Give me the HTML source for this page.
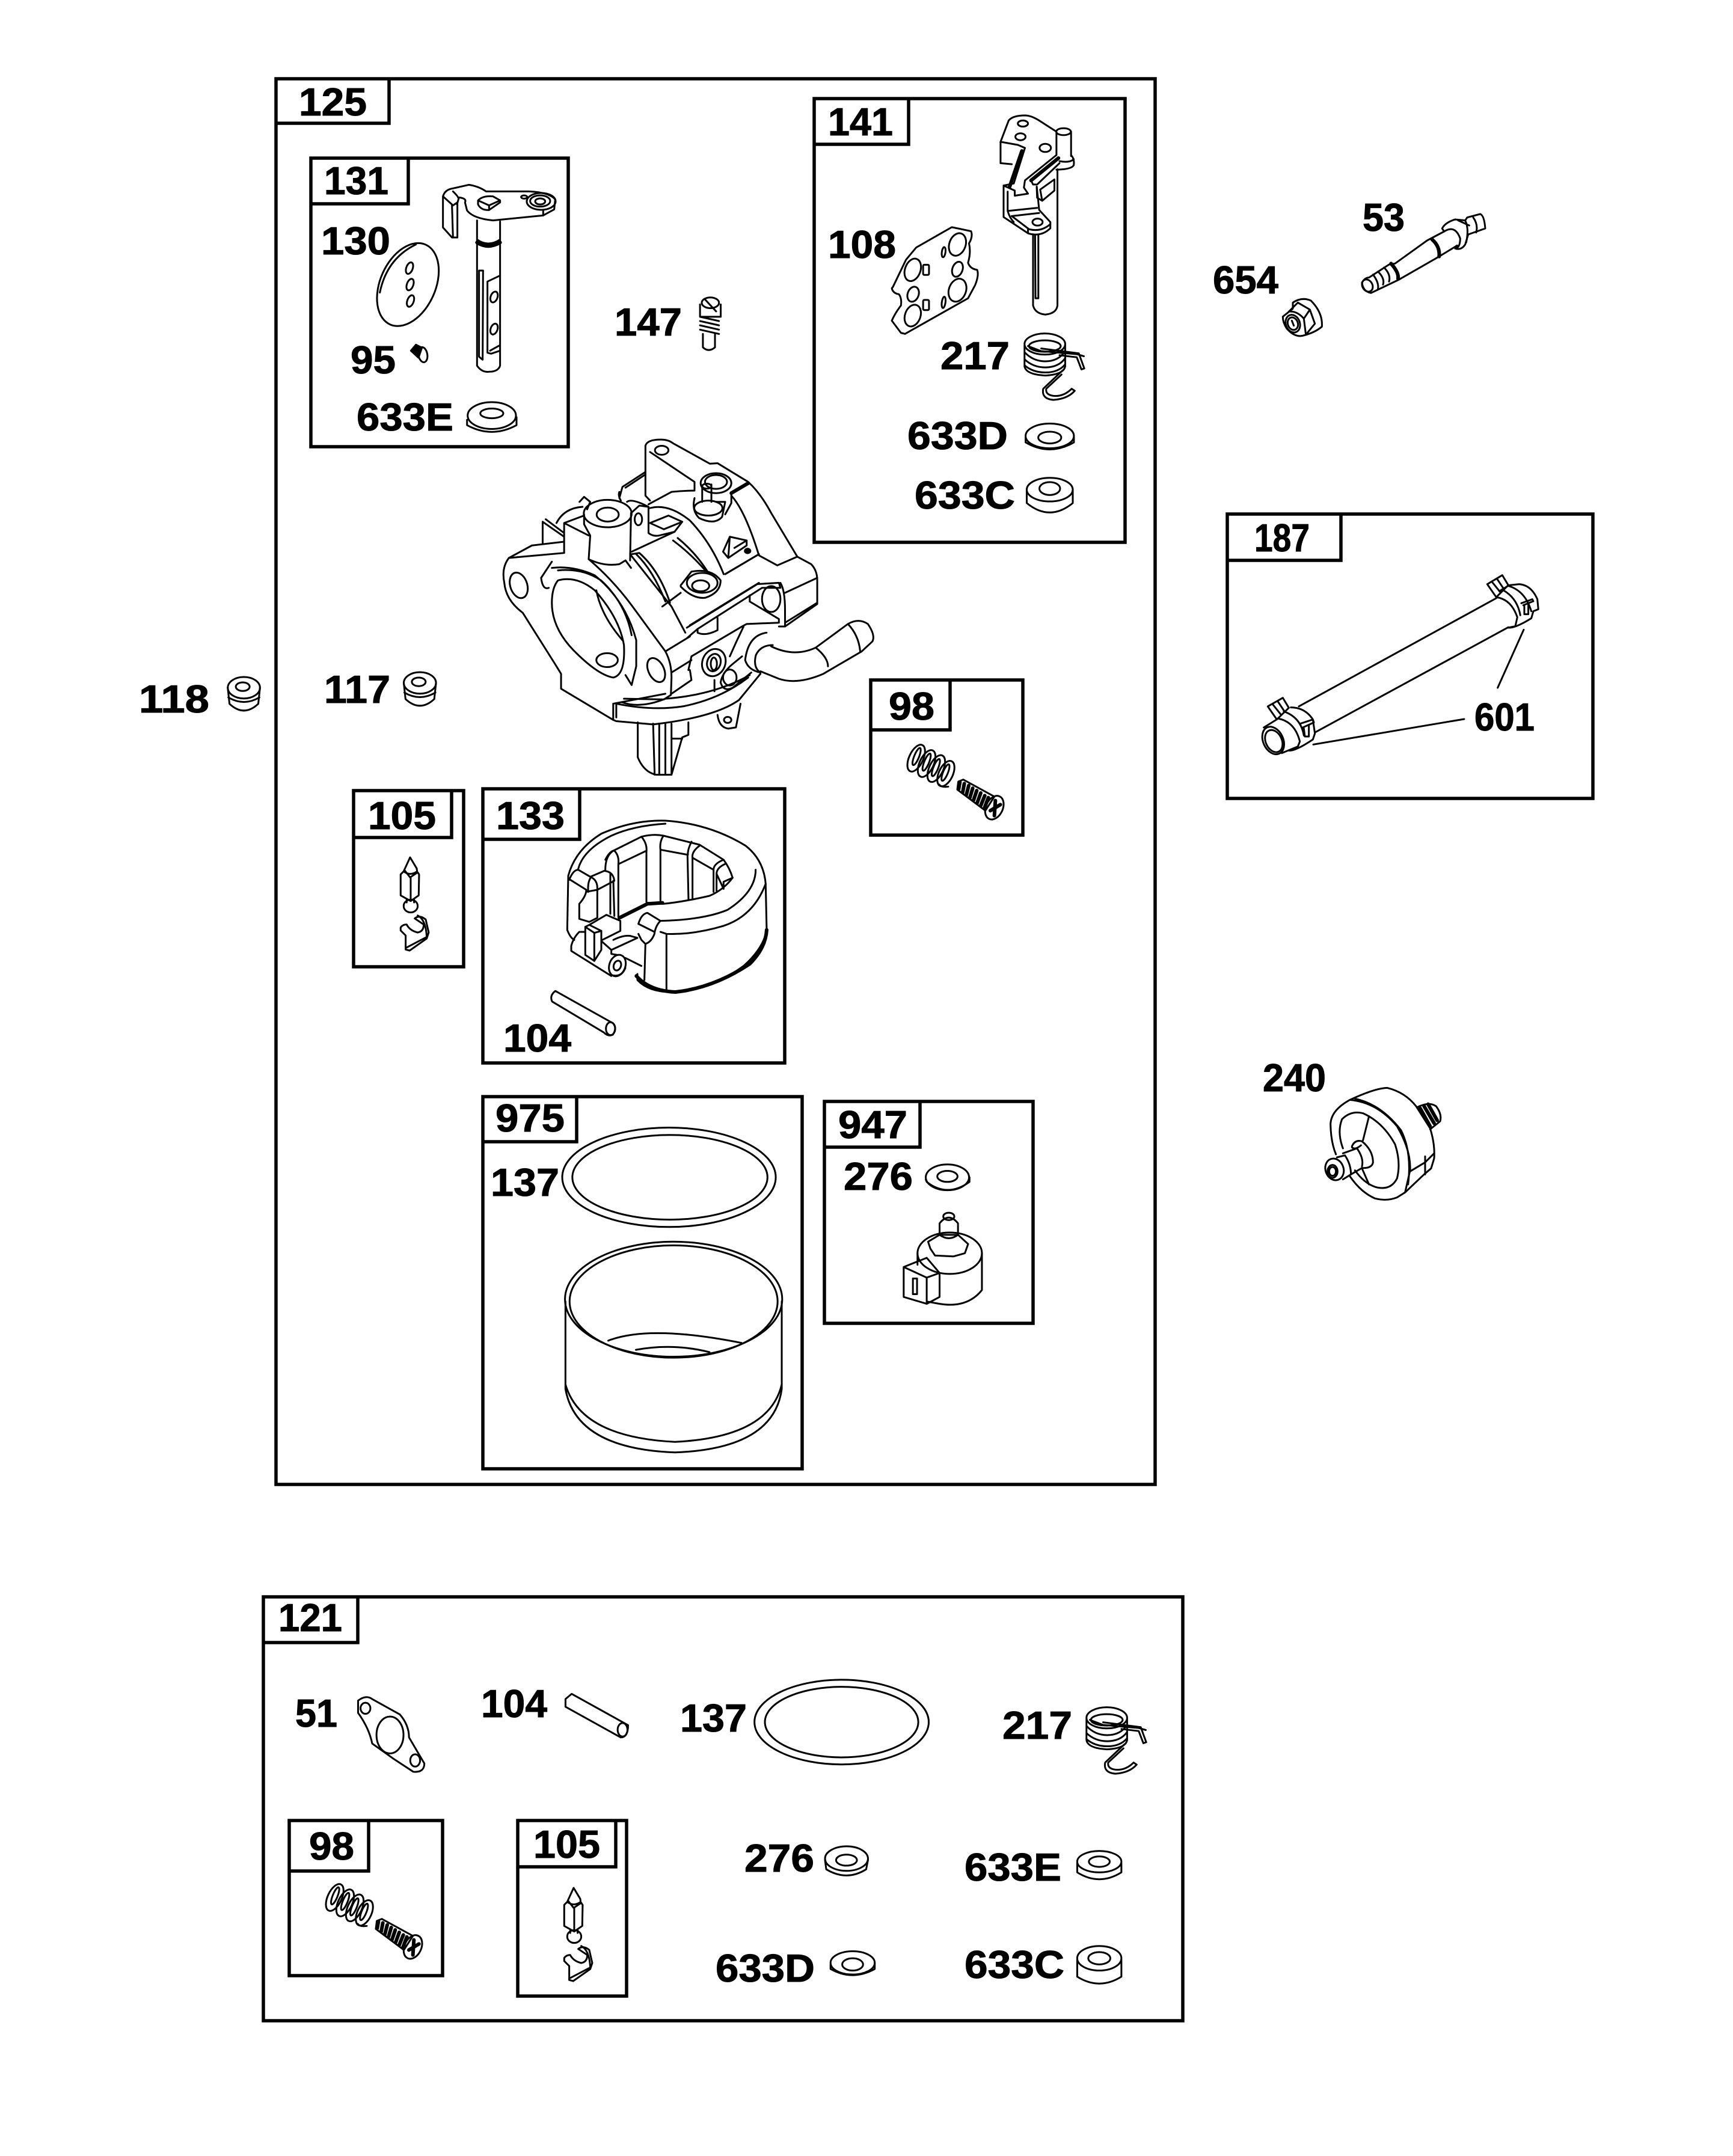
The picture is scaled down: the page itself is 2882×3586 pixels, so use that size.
<!DOCTYPE html>
<html><head><meta charset="utf-8"><style>
html,body{margin:0;padding:0;background:#fff}
svg{display:block}
text{font-family:"Liberation Sans",sans-serif;font-weight:700;font-size:65px;fill:#000;stroke:#000;stroke-width:1}
.f{fill:none;stroke:#000;stroke-width:5.5}
.p *{fill:none;stroke:#000;stroke-width:3;vector-effect:non-scaling-stroke;stroke-linejoin:round;stroke-linecap:round}
.p .k{fill:#000}
.p .t{stroke-width:6}
</style></head><body>
<svg xmlns="http://www.w3.org/2000/svg" width="2882" height="3586" viewBox="0 0 2882 3586">
<rect width="2882" height="3586" fill="#fff"/>
<g class="f">
<rect x="459" y="131" width="1462" height="2338"/><path d="M459 205H647V131"/>
<rect x="517" y="263" width="428" height="480"/><path d="M517 339H679V263"/>
<rect x="1354" y="164" width="517" height="738"/><path d="M1354 240H1511V164"/>
<rect x="1448" y="1131" width="253" height="258"/><path d="M1448 1214H1580V1131"/>
<rect x="588" y="1315" width="183" height="293"/><path d="M588 1393H751V1315"/>
<rect x="803" y="1312" width="502" height="456"/><path d="M803 1396H964V1312"/>
<rect x="803" y="1824" width="531" height="619"/><path d="M803 1899H959V1824"/>
<rect x="1371" y="1832" width="347" height="369"/><path d="M1371 1908H1530V1832"/>
<rect x="438" y="2656" width="1529" height="705"/><path d="M438 2732H595V2656"/>
<rect x="481" y="3028" width="255" height="258"/><path d="M481 3112H613V3028"/>
<rect x="861" y="3028" width="181" height="292"/><path d="M861 3105H1024V3028"/>
<rect x="2041" y="855" width="608" height="473"/><path d="M2041 932H2230V855"/>
</g>
<g>
<text x="497" y="192" textLength="113" lengthAdjust="spacingAndGlyphs">125</text>
<text x="539" y="323" textLength="107" lengthAdjust="spacingAndGlyphs">131</text>
<text x="534" y="423" textLength="115" lengthAdjust="spacingAndGlyphs">130</text>
<text x="583" y="621" textLength="75" lengthAdjust="spacingAndGlyphs">95</text>
<text x="593" y="716" textLength="161" lengthAdjust="spacingAndGlyphs">633E</text>
<text x="1022" y="558" textLength="112" lengthAdjust="spacingAndGlyphs">147</text>
<text x="1377" y="225" textLength="108" lengthAdjust="spacingAndGlyphs">141</text>
<text x="1377" y="429" textLength="113" lengthAdjust="spacingAndGlyphs">108</text>
<text x="1564" y="614" textLength="115" lengthAdjust="spacingAndGlyphs">217</text>
<text x="1509" y="747" textLength="167" lengthAdjust="spacingAndGlyphs">633D</text>
<text x="1521" y="846" textLength="167" lengthAdjust="spacingAndGlyphs">633C</text>
<text x="539" y="1169" textLength="110" lengthAdjust="spacingAndGlyphs">117</text>
<text x="231" y="1185" textLength="117" lengthAdjust="spacingAndGlyphs">118</text>
<text x="1478" y="1197" textLength="76" lengthAdjust="spacingAndGlyphs">98</text>
<text x="612" y="1379" textLength="113" lengthAdjust="spacingAndGlyphs">105</text>
<text x="825" y="1379" textLength="114" lengthAdjust="spacingAndGlyphs">133</text>
<text x="837" y="1749" textLength="113" lengthAdjust="spacingAndGlyphs">104</text>
<text x="824" y="1882" textLength="115" lengthAdjust="spacingAndGlyphs">975</text>
<text x="816" y="1989" textLength="114" lengthAdjust="spacingAndGlyphs">137</text>
<text x="1394" y="1893" textLength="115" lengthAdjust="spacingAndGlyphs">947</text>
<text x="1403" y="1979" textLength="115" lengthAdjust="spacingAndGlyphs">276</text>
<text x="463" y="2713" textLength="106" lengthAdjust="spacingAndGlyphs">121</text>
<text x="491" y="2872" textLength="70" lengthAdjust="spacingAndGlyphs">51</text>
<text x="800" y="2856" textLength="110" lengthAdjust="spacingAndGlyphs">104</text>
<text x="1131" y="2880" textLength="111" lengthAdjust="spacingAndGlyphs">137</text>
<text x="1667" y="2892" textLength="116" lengthAdjust="spacingAndGlyphs">217</text>
<text x="514" y="3093" textLength="75" lengthAdjust="spacingAndGlyphs">98</text>
<text x="887" y="3090" textLength="111" lengthAdjust="spacingAndGlyphs">105</text>
<text x="1238" y="3113" textLength="116" lengthAdjust="spacingAndGlyphs">276</text>
<text x="1604" y="3128" textLength="161" lengthAdjust="spacingAndGlyphs">633E</text>
<text x="1190" y="3296" textLength="165" lengthAdjust="spacingAndGlyphs">633D</text>
<text x="1604" y="3290" textLength="166" lengthAdjust="spacingAndGlyphs">633C</text>
<text x="2266" y="384" textLength="70" lengthAdjust="spacingAndGlyphs">53</text>
<text x="2017" y="488" textLength="109" lengthAdjust="spacingAndGlyphs">654</text>
<text x="2086" y="917" textLength="92" lengthAdjust="spacingAndGlyphs">187</text>
<text x="2452" y="1215" textLength="100" lengthAdjust="spacingAndGlyphs">601</text>
<text x="2100" y="1815" textLength="105" lengthAdjust="spacingAndGlyphs">240</text>
</g>

<defs class="p">
<g id="sp217">
<ellipse cx="1058" cy="1190" rx="100" ry="52"/><ellipse cx="1058" cy="1200" rx="78" ry="28"/>
<path d="M958 1195L958 1300Q965 1340 1060 1345Q1150 1340 1158 1300L1158 1195M958 1230Q1000 1275 1060 1275Q1125 1275 1158 1225M958 1265Q1000 1305 1060 1305Q1125 1305 1158 1260M958 1295Q1000 1330 1060 1330Q1125 1330 1158 1290"/>
<path d="M975 1200L1040 1225L1215 1240L1250 1250M1040 1212L1225 1236L1252 1310L1238 1315L1215 1255L1130 1245"/>
<path d="M1145 1320L1050 1410Q1040 1460 1100 1465Q1170 1460 1205 1420L1190 1410Q1150 1450 1100 1445Q1060 1440 1065 1410L1140 1340"/>
</g>
<g id="sp98">
<ellipse cx="170" cy="108" rx="35" ry="72" transform="rotate(25 170 108)"/><ellipse cx="172" cy="100" rx="12" ry="46" transform="rotate(22 172 100)"/>
<ellipse cx="222" cy="135" rx="35" ry="72" transform="rotate(25 222 135)"/><ellipse cx="222" cy="128" rx="12" ry="46" transform="rotate(22 222 128)"/>
<ellipse cx="270" cy="160" rx="35" ry="72" transform="rotate(25 270 160)"/><ellipse cx="268" cy="155" rx="12" ry="46" transform="rotate(22 268 155)"/>
<ellipse cx="318" cy="185" rx="35" ry="68" transform="rotate(25 318 185)"/><ellipse cx="316" cy="180" rx="12" ry="44" transform="rotate(22 316 180)"/>
<path d="M285 240Q295 255 330 250"/>
<path d="M380 225L405 215L560 300L515 370L375 265Z"/>
<path class="t" d="M388 228L382 262M410 235L402 278M432 245L420 292M452 258L438 305M472 270L456 318M492 282L474 332M512 295L492 345M530 305L510 358"/>
<ellipse cx="560" cy="355" rx="42" ry="62" transform="rotate(25 560 355)"/>
<path class="t" d="M540 370L590 340M565 320L560 395"/>
</g>
<g id="nd105">
<path d="M1330 130L1362 60L1395 115L1397 130Q1362 155 1330 130M1315 145L1335 125L1362 160L1400 135L1407 145L1405 250L1365 278L1315 250ZM1365 160L1365 278M1345 272L1345 285M1382 270L1382 285"/>
<ellipse cx="1365" cy="303" rx="35" ry="32"/>
<path d="M1315 410Q1325 395 1345 395Q1360 425 1400 435Q1430 430 1430 395L1385 365Q1410 345 1440 370L1455 435L1445 465L1360 525L1340 520L1340 450L1315 425ZM1345 510L1440 460M1400 350Q1440 370 1445 455"/>
</g>
</defs>

<!-- 131: lever, disc, screw 95 -->
<g class="p" transform="translate(620,290) scale(.3333)">
<path d="M350 110Q360 75 400 70L480 52Q530 60 565 85L780 85Q880 90 910 125L905 175L850 205L600 230Q500 220 470 180L460 140Q470 120 430 115L420 150M350 110L350 265L395 315L422 315L422 140L400 155L350 110M395 155L400 315M400 85Q425 110 425 115"/>
<path d="M525 130Q550 105 600 110L635 130L635 140L580 178Q540 180 525 150ZM525 130L580 155L635 130M580 155L580 178"/>
<ellipse cx="840" cy="135" rx="72" ry="42"/><ellipse cx="835" cy="133" rx="50" ry="28"/><ellipse cx="835" cy="135" rx="25" ry="15"/><ellipse cx="755" cy="113" rx="15" ry="8"/>
<path d="M850 180L850 205M520 230L520 955Q545 990 580 985Q625 985 635 955L635 235M520 325Q575 365 635 325"/>
<path class="t" d="M520 340Q575 375 635 340"/>
<path d="M530 480L550 480L548 925L530 910ZM572 535L635 505M572 535L572 890L590 895L635 880M585 880L630 855"/>
<ellipse cx="605" cy="612" rx="17" ry="28" transform="rotate(20 605 612)"/><ellipse cx="605" cy="772" rx="17" ry="28" transform="rotate(20 605 772)"/>
<ellipse cx="175" cy="550" rx="138" ry="218" transform="rotate(24 175 550)"/>
<path d="M35 590Q70 420 215 350"/>
<ellipse cx="183" cy="468" rx="16" ry="30" transform="rotate(20 183 468)"/><ellipse cx="186" cy="550" rx="16" ry="30" transform="rotate(20 186 550)"/><ellipse cx="188" cy="632" rx="16" ry="30" transform="rotate(20 188 632)"/>
<path class="k" d="M190 880L215 850L245 865L228 915Z"/><ellipse cx="250" cy="900" rx="22" ry="38" transform="rotate(-10 250 900)"/>
</g>

<!-- 141: lever, gasket, spring -->
<g class="p" transform="translate(1380,170) scale(.338)">
<path d="M840 195L880 90Q900 65 960 65Q990 65 1030 90L1115 145L1115 260M840 195L925 210L960 225L905 400L855 410M840 195L840 300L895 305"/>
<ellipse cx="950" cy="105" rx="25" ry="15"/><ellipse cx="938" cy="170" rx="25" ry="17"/><ellipse cx="1060" cy="225" rx="28" ry="20"/>
<path class="t" d="M945 240L885 415"/>
<ellipse cx="1150" cy="145" rx="36" ry="17"/>
<path d="M1187 145L1187 265M1187 260Q1205 280 1200 310Q1190 330 1115 332M1130 290Q1180 300 1200 280"/>
<path d="M1115 260L960 385L955 420L975 450L910 460L910 435L855 410L855 565L975 645Q1040 665 1085 620L1085 590L1030 530L1018 415"/>
<path class="t" d="M1125 275L990 385"/>
<path d="M990 385L1000 405L1020 405L1130 300M1035 430L1105 380L1105 435L1045 485L1020 470L1018 420M1035 430L1045 485M875 440L875 535Q885 570 905 590M875 535L1020 520M900 560L1030 545M895 560L980 625M975 625L975 645M980 625Q1040 640 1085 600"/>
<ellipse cx="1022" cy="590" rx="25" ry="17"/>
<path d="M1000 650L1000 1000Q1010 1040 1060 1045Q1115 1040 1120 1000L1120 330M1010 655L1012 965L1026 965L1026 655"/>
<path d="M310 910L375 775L425 715L600 615Q650 625 695 635Q705 660 685 695Q695 740 680 790Q690 820 725 825Q735 850 715 900L680 965L370 1140L350 1135L305 1075Q320 1040 350 1000Q355 965 340 945Q310 940 305 915Z"/>
<ellipse cx="408" cy="825" rx="38" ry="57" transform="rotate(20 408 825)"/><ellipse cx="628" cy="700" rx="40" ry="57" transform="rotate(20 628 700)"/><ellipse cx="628" cy="822" rx="25" ry="38" transform="rotate(20 628 822)"/><ellipse cx="628" cy="925" rx="42" ry="58" transform="rotate(20 628 925)"/><ellipse cx="410" cy="945" rx="27" ry="38" transform="rotate(20 410 945)"/><ellipse cx="408" cy="1050" rx="38" ry="55" transform="rotate(20 408 1050)"/>
<rect x="459" y="800" width="29" height="50" rx="6"/><rect x="459" y="973" width="29" height="50" rx="6"/><ellipse cx="560" cy="738" rx="9" ry="25" transform="rotate(8 560 738)"/><ellipse cx="560" cy="985" rx="9" ry="28" transform="rotate(8 560 985)"/>
<use href="#sp217"/>
</g>
<!-- 217 copy in 121 -->
<g class="p" transform="translate(1483,2455) scale(.338)"><use href="#sp217"/></g>

<!-- 98 -->
<g class="p" transform="translate(500,3120) scale(.3333)"><use href="#sp98"/><use href="#nd105"/></g>
<g class="p" transform="translate(1467,1225) scale(.3333)"><use href="#sp98"/></g>
<g class="p" transform="translate(228,1406) scale(.3333)"><use href="#nd105"/></g>

<!-- 133 float -->
<g class="p" transform="translate(920,1350) scale(.3333)">
<path d="M75 320Q110 190 240 110Q400 40 560 45Q780 60 960 170Q1050 240 1060 360L1065 590Q1050 680 950 770Q800 880 610 900Q480 905 420 840L420 810M75 320L70 590Q85 630 105 640M125 285Q150 190 290 120Q400 70 560 60"/>
<path d="M260 240Q280 200 300 195L440 125Q500 110 550 120L730 165L850 240Q880 280 895 330Q850 390 780 420Q650 450 550 460L470 455L330 530"/>
<path d="M1010 290Q1010 400 870 490Q750 540 535 545M1060 360Q1000 520 850 570Q700 615 565 610L535 600"/>
<path d="M440 125Q470 160 465 200L465 450M550 120Q530 150 535 190L535 450M535 190L670 215L675 440M690 150Q670 190 672 215M730 170Q690 200 695 230L695 435M695 230L800 290L800 400M850 240Q800 260 800 290M465 195L325 262L325 525M300 195Q260 220 260 290M305 195Q330 220 325 262M860 260Q815 280 815 310L815 395M815 310L850 385M895 330L850 350L850 385"/>
<path d="M80 340Q100 290 125 290L185 325Q220 340 220 380L220 530L180 550L130 535L130 460Q165 420 165 390L85 340M185 325L255 295Q300 300 305 345L220 390L165 400M175 400Q170 350 190 325M285 310L285 510M300 345L305 520"/>
<path d="M160 575L180 565L240 595L240 690L205 745L160 715ZM160 575L205 605L205 745M205 605L240 595M180 565L265 515L335 545L335 595L245 640M90 670Q100 630 130 600L155 600M90 670L90 695L290 820"/>
<ellipse cx="320" cy="768" rx="40" ry="55" transform="rotate(20 320 768)"/><ellipse cx="320" cy="768" rx="18" ry="25" transform="rotate(20 320 768)"/>
<path d="M290 815Q340 830 360 780M360 730L440 770M245 650L290 690L420 630L385 620Q350 615 300 640M290 690L290 710L320 715M425 560Q440 510 470 505L535 545Q510 570 505 610Q490 650 460 660L440 640L425 610M425 560L505 600M460 660L455 840M565 610L565 895"/>
<path class="t" d="M415 820Q480 895 610 900Q800 880 980 760Q1060 680 1065 590M330 530L470 460L545 455"/>
</g>

<!-- zoom-1 remaining -->
<g class="p" transform="translate(440,100) scale(.9566,.893)">
<ellipse cx="395" cy="662" rx="42" ry="25"/><ellipse cx="395" cy="658" rx="20" ry="9"/><path d="M352 670L352 680Q395 705 438 680L438 665"/>
<ellipse cx="775" cy="452" rx="15" ry="10"/>
<path d="M757 455L757 478L793 478L793 455M757 478L790 486M757 486L790 494M757 494L790 502M757 502L790 510M762 510L762 535Q772 545 783 535L783 510M765 445L785 468"/>
<ellipse cx="1365" cy="700" rx="42" ry="23"/><ellipse cx="1365" cy="703" rx="20" ry="11"/><path d="M1323 703L1323 712Q1365 738 1407 712L1407 703"/>
<ellipse cx="1365" cy="800" rx="40" ry="22"/><ellipse cx="1365" cy="798" rx="18" ry="12"/><path d="M1325 800L1325 825Q1365 860 1405 825L1405 800"/>
<ellipse cx="270" cy="1160" rx="28" ry="20"/><ellipse cx="268" cy="1158" rx="12" ry="8"/><path d="M242 1160L245 1190Q270 1215 295 1190L298 1160M243 1178Q270 1195 297 1178"/>
<g transform="translate(-306,9)"><ellipse cx="270" cy="1160" rx="28" ry="20"/><ellipse cx="268" cy="1158" rx="12" ry="8"/><path d="M242 1160L245 1190Q270 1215 295 1190L298 1160M243 1178Q270 1195 297 1178"/></g>
</g>

<!-- carburetor -->
<g class="p" transform="translate(780,700) scale(.5102,.4145)">
<path d="M575 100Q580 75 625 75Q650 75 665 90L785 172L810 170L910 245Q950 290 985 370L1070 545L1115 575Q1135 600 1135 640L1135 735L1030 825L1010 825"/>
<path d="M575 100L575 300L590 320M590 125L735 245L735 275"/>
<ellipse cx="628" cy="118" rx="22" ry="18"/>
<ellipse cx="805" cy="250" rx="50" ry="40"/><ellipse cx="805" cy="245" rx="36" ry="28"/>
<path d="M760 260L760 325M790 255L790 325"/><ellipse cx="775" cy="262" rx="15" ry="10"/>
<ellipse cx="780" cy="350" rx="46" ry="30"/>
<path d="M735 310Q725 360 750 390Q800 420 825 385L835 325L805 325"/>
<path class="t" d="M855 290L910 250"/>
<path d="M855 290L855 330M855 300Q900 360 945 540L1005 580L1070 545M855 330L835 375M945 535L835 615"/>
<path d="M850 465L905 480L905 500L845 550L828 525ZM850 465L845 550M865 510L905 480"/><circle class="k" cx="908" cy="522" r="9"/>
<path d="M575 205L500 265L490 310L495 320M575 215L510 268M490 285Q485 300 495 320"/>
<ellipse cx="452" cy="372" rx="78" ry="55"/><ellipse cx="452" cy="376" rx="36" ry="28"/>
<path d="M375 375L375 415L395 460L390 555Q440 585 490 575L510 560L528 590M528 370L525 560"/>
<path d="M515 325Q530 310 585 345M528 370L555 340L585 345L585 450Q600 465 620 460L670 445L530 525"/>
<ellipse cx="552" cy="395" rx="12" ry="24"/>
<path d="M590 350Q650 330 720 400Q790 490 830 615M585 335L660 285Q700 280 735 280"/>
<path d="M590 410L650 380L695 405L670 445M590 410L635 435L695 405"/>
<path d="M665 480Q720 530 770 600M680 470Q740 530 780 610M530 535L555 530Q620 600 655 730M545 535Q600 600 640 725"/>
<path d="M690 660L725 605Q790 590 820 640Q820 690 770 710Q730 715 690 665"/><ellipse cx="760" cy="650" rx="50" ry="40"/><ellipse cx="755" cy="662" rx="28" ry="22"/>
<path d="M630 745L690 690M310 410L390 460M310 410L375 380M240 405L240 490M240 405L310 465M250 395L310 450M285 410Q310 350 370 345M360 325L375 305L395 325L385 355M310 410L310 530"/>
<path d="M130 550L205 500L310 485M130 550L310 530M130 550Q105 590 115 650Q120 720 175 770L280 975L300 1015L300 1075L470 1200"/>
<ellipse cx="162" cy="660" rx="28" ry="52" transform="rotate(-12 162 660)"/>
<path d="M390 555Q470 640 530 740L640 925Q660 970 660 1030L658 1100L635 1118L505 1115"/>
<path d="M290 640Q350 620 410 680Q490 790 505 900Q510 1020 470 1030Q420 1020 340 920Q270 830 270 730Q270 670 290 640Z"/>
<ellipse cx="450" cy="960" rx="35" ry="28"/><ellipse cx="610" cy="1000" rx="26" ry="50" transform="rotate(-18 610 1000)"/>
<path d="M270 590Q340 580 410 620Q510 720 545 880M290 600Q370 590 430 640Q510 730 530 860M545 880L545 985L530 1060L510 1020M235 630L270 565M235 630Q240 680 260 670M415 680Q430 780 500 880"/>
<path d="M640 925L720 865M660 1010L725 960M660 1095L725 1040L720 1000M525 535L660 745L705 850"/>
<path d="M710 830L940 655L1010 650L1015 670L955 670L745 835L712 870M720 820L945 650M1015 650Q1030 680 1030 760L1030 825M915 725L1010 795L1010 810L905 815L890 825L725 945L715 1000M915 725L915 700"/>
<ellipse cx="985" cy="715" rx="30" ry="52"/>
<path d="M745 835L745 850Q770 865 810 840L810 790M1030 690L1135 630M1030 810L1135 730M835 615L945 535"/>
<path d="M895 825L870 890L850 945"/>
<ellipse cx="798" cy="970" rx="38" ry="55" transform="rotate(10 798 970)"/><ellipse cx="798" cy="970" rx="22" ry="35" transform="rotate(10 798 970)"/><ellipse cx="798" cy="975" rx="10" ry="25"/>
<path d="M820 1050Q825 1010 860 975L890 945M820 1050Q830 1090 860 1070L920 1010M800 1040L800 1085"/><ellipse cx="850" cy="1030" rx="22" ry="32"/>
<path d="M985 905Q1060 950 1130 910L1235 815Q1270 790 1300 815Q1325 860 1315 885L1280 925L1155 1015Q1070 1060 1010 1035L950 1005M1235 815Q1270 860 1275 925M1130 910Q1170 950 1170 985M990 900Q950 900 935 940Q925 990 950 1010M970 850Q910 860 900 960Q910 1000 950 1010"/>
<path d="M470 1135L470 1200L480 1205L600 1218Q800 1190 880 1120L950 1015M470 1135L640 1095M480 1135Q600 1165 700 1145Q820 1115 910 1030M480 1190L480 1135M500 1130Q560 1155 640 1115Q800 1100 915 1020"/>
<path d="M550 1210L550 1350Q570 1410 610 1420L660 1420L695 1270L715 1260L715 1210M600 1215L605 1420M620 1215L620 1420M640 1215L640 1420M660 1215L660 1420M660 1275L695 1275"/>
<path d="M810 1180Q815 1230 845 1235L870 1230L885 1135"/><ellipse cx="843" cy="1200" rx="12" ry="12"/>
</g>

<!-- zoom-3 parts -->
<g class="p" transform="translate(560,1300) scale(.7653)">
<path d="M475 455L600 525Q610 535 600 550Q590 555 580 545L468 478Q462 465 475 455Z"/><ellipse cx="595" cy="537" rx="10" ry="14"/>
<ellipse cx="722" cy="860" rx="232" ry="108"/><ellipse cx="724" cy="860" rx="212" ry="92"/>
<ellipse cx="732" cy="1125" rx="236" ry="125"/><ellipse cx="732" cy="1130" rx="226" ry="122"/>
<path d="M497 1130L497 1320Q520 1450 735 1458Q950 1450 967 1320L967 1130M497 1310Q530 1425 735 1435Q940 1425 967 1310M590 1215Q680 1180 880 1220M650 1235Q730 1220 810 1240"/>
<ellipse cx="1327" cy="860" rx="47" ry="28"/><ellipse cx="1327" cy="858" rx="22" ry="12"/><path d="M1280 865L1282 870Q1327 905 1375 870L1375 860"/>
<ellipse cx="1330" cy="945" rx="12" ry="8"/>
<path d="M1310 960Q1330 935 1350 960L1350 985Q1330 1000 1310 985ZM1285 1000L1310 985L1350 985L1372 1005L1365 1025L1340 1032L1300 1030L1290 1015Z"/>
<ellipse cx="1332" cy="1025" rx="70" ry="45"/>
<path d="M1262 1025L1262 1050M1402 1025L1402 1105Q1370 1145 1310 1135L1282 1130M1232 1055L1282 1035L1310 1068L1310 1120L1282 1135L1232 1120ZM1232 1055L1282 1078L1282 1135M1282 1078L1310 1068"/>
<rect x="1252" y="1080" width="9" height="34"/>
</g>

<!-- zoom-4 parts -->
<g class="p" transform="translate(420,2650) scale(1.0204,.5102)">
<path d="M172 350Q185 330 195 345L240 395Q255 430 255 470L280 555Q280 585 262 582L230 540L195 490Q190 440 172 390Z"/>
<ellipse cx="184" cy="375" rx="8" ry="18"/><ellipse cx="224" cy="462" rx="22" ry="60"/><ellipse cx="265" cy="545" rx="8" ry="20"/>
<path d="M510 345L520 328L612 430Q612 470 600 470L510 370Z"/><ellipse cx="603" cy="445" rx="8" ry="22"/>
<ellipse cx="960" cy="420" rx="142" ry="138"/><ellipse cx="960" cy="420" rx="125" ry="115"/>
<ellipse cx="968" cy="865" rx="35" ry="40"/><ellipse cx="968" cy="870" rx="17" ry="18"/><path d="M933 870L935 900Q968 940 1000 900L1003 870"/>
<ellipse cx="1380" cy="875" rx="36" ry="35"/><ellipse cx="1380" cy="875" rx="17" ry="17"/><path d="M1344 880L1344 910Q1380 955 1416 910L1416 880"/>
<ellipse cx="978" cy="1205" rx="36" ry="38"/><ellipse cx="978" cy="1210" rx="17" ry="20"/><path d="M942 1210L942 1225Q978 1265 1014 1225L1014 1205"/>
<ellipse cx="1380" cy="1190" rx="36" ry="40"/><ellipse cx="1380" cy="1190" rx="18" ry="20"/><path d="M1344 1195L1344 1250Q1380 1295 1416 1250L1416 1195"/>
</g>

<!-- 53 and 654 -->
<g class="p" transform="translate(2100,330) scale(.3333)">
<path d="M495 420Q510 395 530 395L630 330L660 325L820 210L905 165L895 150Q910 120 960 105L1010 110L1020 95L1085 78Q1105 85 1110 150L1025 180L1010 230Q990 260 960 250L970 235L880 290L680 405L540 472Q500 465 495 420Z"/>
<ellipse cx="522" cy="435" rx="25" ry="32" transform="rotate(-30 522 435)"/>
<path d="M550 380Q580 420 575 450M575 365Q610 400 600 430M605 345Q640 380 630 415M905 165Q960 130 985 200Q985 240 965 250M1010 110Q1030 150 1015 220M1050 95Q1075 130 1065 170M975 110L1030 135"/>
<path class="t" d="M640 325Q680 370 675 400M845 205Q885 240 880 290"/>
<path d="M150 520Q195 490 240 510Q300 570 295 640Q260 670 200 685Q160 695 120 650Q100 620 100 590L150 550ZM130 565L175 520L235 555L260 625L215 680M205 600L235 555M205 600L215 680M130 565Q170 560 205 600M145 610L155 635"/>
<ellipse cx="150" cy="625" rx="35" ry="45" transform="rotate(-20 150 625)"/><ellipse cx="150" cy="625" rx="25" ry="32" transform="rotate(-20 150 625)"/>
</g>

<!-- 187 -->
<g class="p" transform="translate(2080,940) scale(.3333)">
<path d="M240 705L1225 165M320 835L1285 310"/>
<path d="M1180 95L1255 50L1285 100L1225 160ZM1205 85L1245 135M1230 70L1260 115M1225 160Q1300 170 1330 260L1320 305L1285 312Q1320 315 1400 265L1410 230L1435 220L1430 170Q1400 100 1340 95L1290 100L1240 130M1260 125Q1330 165 1345 250M1350 190L1405 170L1410 180L1360 200M1365 205L1365 245L1385 245L1385 195M1290 105Q1370 130 1400 230"/>
<path d="M85 705L160 662L190 712L130 770ZM110 695L150 745M135 680L165 725M130 770L65 810M190 925Q220 930 310 870L320 840L310 770Q270 710 200 710M135 765Q220 780 245 880L235 905L155 938M165 730Q250 760 265 850M250 790L310 770L315 785L260 810M265 815L270 855L290 855L290 800"/>
<ellipse cx="112" cy="875" rx="50" ry="72" transform="rotate(-25 112 875)"/><ellipse cx="115" cy="878" rx="40" ry="58" transform="rotate(-25 115 878)"/>
<path d="M1362 322L1232 612M1065 768L312 895"/>
</g>

<!-- 240 -->
<g class="p" transform="translate(2190,1790) scale(.3333)">
<path d="M165 118Q290 60 350 58Q440 80 495 150L565 260Q590 340 585 410L570 460L535 490L440 580L400 605Q350 625 290 610Q220 580 165 500M165 118Q70 170 68 240Q70 330 95 390"/>
<path d="M165 118Q300 130 400 250Q470 370 465 470L440 580M190 112Q320 140 420 270Q475 380 455 540"/>
<path d="M130 360Q100 280 125 215Q170 170 230 185Q330 230 390 340Q420 430 400 510Q370 570 300 555Q240 540 190 470"/>
<path d="M260 200L230 320M225 460L260 540M175 350Q190 315 225 325Q280 370 280 430Q275 460 225 458L170 490M175 355Q190 370 220 345M130 385L200 360Q235 410 225 450"/>
<ellipse cx="88" cy="465" rx="45" ry="55" transform="rotate(-20 88 465)"/><ellipse cx="78" cy="475" rx="25" ry="32"/><ellipse cx="78" cy="475" rx="17" ry="22"/>
<path d="M100 405L140 395Q170 440 170 490L130 515M500 155Q560 125 595 150Q625 190 615 225L565 265M465 475L540 430L585 385M540 400L540 490"/>
<path class="t" d="M515 160L565 250M535 150L585 235M555 140L600 220"/>
</g>
</svg>
</body></html>
